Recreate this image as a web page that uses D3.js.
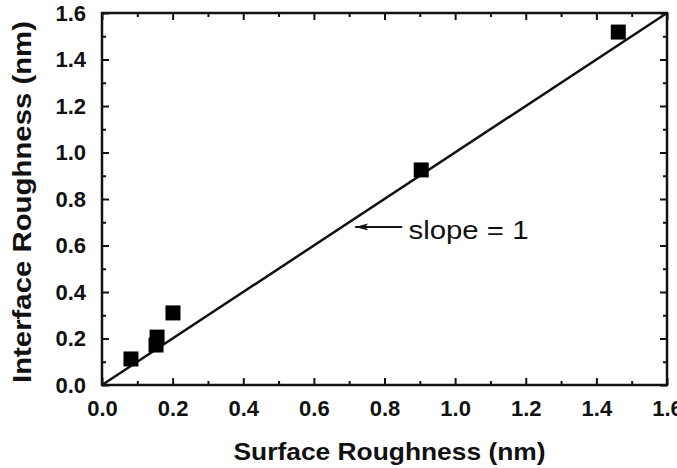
<!DOCTYPE html>
<html>
<head>
<meta charset="utf-8">
<script src="https://cdn.jsdelivr.net/npm/d3@7"></script>
<style>
  body { margin: 0; background: #fff; }
  text { font-family: "Liberation Sans", Arial, Helvetica, sans-serif; fill: #111; }
</style>
</head>
<body>
<svg id="chart" width="677" height="468"></svg>
<script>

// Data
const surfaceRoughness   = [0.082, 0.153, 0.156, 0.201, 0.904, 1.462];
const interfaceRoughness = [0.112, 0.172, 0.206, 0.310, 0.925, 1.518];
const fitLine = [[0, 0], [1.6, 1.6]];   // slope = 1
const majorTicks = [0, 0.2, 0.4, 0.6, 0.8, 1.0, 1.2, 1.4, 1.6];
const minorTicks = [0.1, 0.3, 0.5, 0.7, 0.9, 1.1, 1.3, 1.5];

// Annotation anchor (data units)
const arrowTip = [0.717, 0.68];
const arrowTail = [0.85, 0.68];
const labelPos = [0.868, 0.63];

const width = 677, height = 468;
const margin = {top: 13, right: 10, bottom: 83, left: 102};
const w = width - margin.left - margin.right;
const h = height - margin.top - margin.bottom;

const svg = d3.select("#chart");

const x = d3.scaleLinear().domain([0, 1.6]).range([0, w]);
const y = d3.scaleLinear().domain([0, 1.6]).range([h, 0]);

const g = svg.append("g")
             .attr("transform", "translate(" + margin.left + "," + margin.top + ")");

// arrow marker, tip at the end of the line
svg.append("defs").append("marker")
   .attr("id", "arrowhead")
   .attr("viewBox", "0 0 13 7")
   .attr("refX", 13)
   .attr("refY", 3.5)
   .attr("markerWidth", 13)
   .attr("markerHeight", 7)
   .attr("markerUnits", "userSpaceOnUse")
   .attr("orient", "auto")
   .append("path")
   .attr("d", "M0,0 L13,3.5 L0,7 L3,3.5 Z")
   .attr("fill", "#111");

const fmt = d3.format(".1f");
const major = 7, minor = 4;

function styleAxis(sel) {
	sel.select(".domain").remove();
	sel.selectAll(".tick line").attr("stroke", "#111").attr("stroke-width", 2);
	sel.selectAll(".tick text")
	   .style("font-size", "22px")
	   .style("font-weight", "bold");
}

// Bottom axis (inner ticks)
const xMajor = g.append("g").attr("transform", "translate(0," + h + ")")
	.call(d3.axisBottom(x).tickValues(majorTicks).tickFormat(fmt).tickSizeInner(-major).tickSizeOuter(0).tickPadding(10));
styleAxis(xMajor);
xMajor.selectAll(".tick text").attr("dy", "0.95em");
const xMinor = g.append("g").attr("transform", "translate(0," + h + ")")
	.call(d3.axisBottom(x).tickValues(minorTicks).tickFormat("").tickSizeInner(-minor).tickSizeOuter(0));
styleAxis(xMinor);

// Top axis
const xTop = g.append("g")
	.call(d3.axisTop(x).tickValues(majorTicks).tickFormat("").tickSizeInner(-major).tickSizeOuter(0));
styleAxis(xTop);
const xTopMinor = g.append("g")
	.call(d3.axisTop(x).tickValues(minorTicks).tickFormat("").tickSizeInner(-minor).tickSizeOuter(0));
styleAxis(xTopMinor);

// Left axis
const yMajor = g.append("g")
	.call(d3.axisLeft(y).tickValues(majorTicks).tickFormat(fmt).tickSizeInner(-major).tickSizeOuter(0).tickPadding(16));
styleAxis(yMajor);
const yMinor = g.append("g")
	.call(d3.axisLeft(y).tickValues(minorTicks).tickFormat("").tickSizeInner(-minor).tickSizeOuter(0));
styleAxis(yMinor);

// Right axis
const yRight = g.append("g").attr("transform", "translate(" + w + ",0)")
	.call(d3.axisRight(y).tickValues(majorTicks).tickFormat("").tickSizeInner(-major).tickSizeOuter(0));
styleAxis(yRight);
const yRightMinor = g.append("g").attr("transform", "translate(" + w + ",0)")
	.call(d3.axisRight(y).tickValues(minorTicks).tickFormat("").tickSizeInner(-minor).tickSizeOuter(0));
styleAxis(yRightMinor);

// Frame
g.append("rect")
 .attr("x", 0).attr("y", 0)
 .attr("width", w).attr("height", h)
 .attr("fill", "none")
 .attr("stroke", "#111")
 .attr("stroke-width", 2.5);

// slope = 1 line
g.append("path")
 .datum(fitLine)
 .attr("d", d3.line().x(d => x(d[0])).y(d => y(d[1])))
 .attr("stroke", "#111")
 .attr("stroke-width", 2.5)
 .attr("fill", "none");

// Data squares
const sq = 15;
g.selectAll("rect.pt")
 .data(d3.range(surfaceRoughness.length))
 .enter()
 .append("rect")
	.attr("class", "pt")
	.attr("x", i => x(surfaceRoughness[i]) - sq / 2)
	.attr("y", i => y(interfaceRoughness[i]) - sq / 2)
	.attr("width", sq)
	.attr("height", sq)
	.attr("fill", "#000");

// Annotation
g.append("line")
 .attr("x1", x(arrowTail[0])).attr("y1", y(arrowTail[1]))
 .attr("x2", x(arrowTip[0])).attr("y2", y(arrowTip[1]))
 .attr("stroke", "#111")
 .attr("stroke-width", 2)
 .attr("marker-end", "url(#arrowhead)");

g.append("text")
 .attr("x", x(labelPos[0]))
 .attr("y", y(labelPos[1]))
 .attr("textLength", 120)
 .attr("lengthAdjust", "spacingAndGlyphs")
 .style("font-size", "25px")
 .text("slope = 1");

// Axis titles
svg.append("text")
   .attr("x", margin.left + x(0.8) + 5)
   .attr("y", 460)
   .attr("text-anchor", "middle")
   .attr("textLength", 312)
   .attr("lengthAdjust", "spacingAndGlyphs")
   .style("font-size", "24px")
   .style("font-weight", "bold")
   .text("Surface Roughness (nm)");

svg.append("text")
   .attr("transform", "translate(31," + (margin.top + h / 2 + 3) + ") rotate(-90)")
   .attr("text-anchor", "middle")
   .attr("textLength", 362)
   .attr("lengthAdjust", "spacingAndGlyphs")
   .style("font-size", "26px")
   .style("font-weight", "bold")
   .text("Interface Roughness (nm)");

</script>
</body>
</html>
